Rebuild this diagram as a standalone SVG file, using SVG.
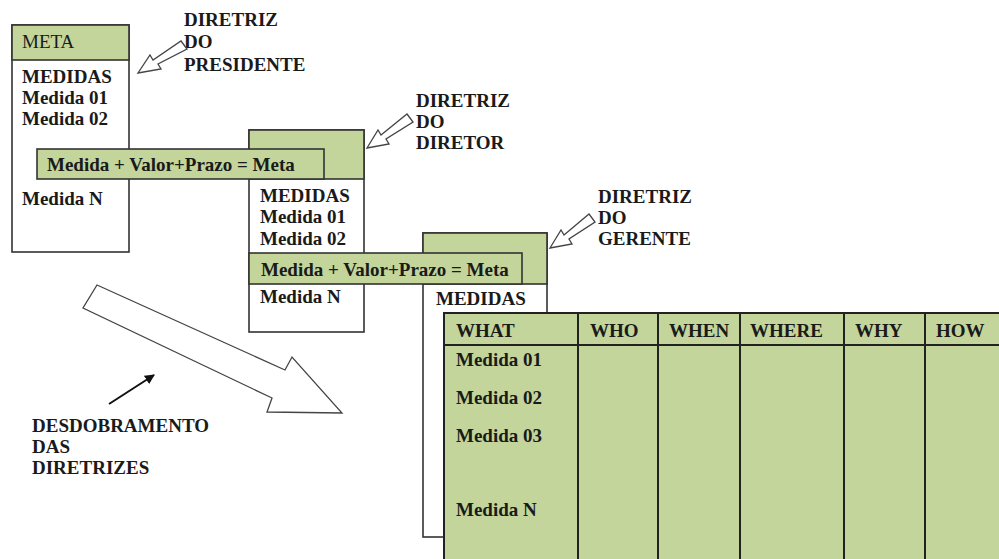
<svg xmlns="http://www.w3.org/2000/svg" width="999" height="559" viewBox="0 0 999 559">
<style>
text{font-family:"Liberation Serif","Times New Roman",serif;font-weight:bold;font-size:19px;fill:#1a1a1a}
.box{fill:#fff;stroke:#333;stroke-width:1.6}
.g{fill:#c3d59b;stroke:#333;stroke-width:1.6}
.hollow{fill:#fff;stroke:#444;stroke-width:1.3}
.grid{stroke:#222;stroke-width:2;fill:none}
.t{font-size:19px}
</style>
<defs>
<marker id="ah" viewBox="0 0 10 10" refX="9" refY="5" markerWidth="5" markerHeight="5" orient="auto">
<path d="M0,0 L10,5 L0,10 z" fill="#111"/>
</marker>
</defs>
<rect width="999" height="559" fill="#fff"/>

<g id="presidente">
<rect class="box" x="12" y="25" width="117" height="227"/>
<rect class="g" x="12" y="25" width="117" height="35"/>
<text x="22" y="48" style="font-weight:normal">META</text>
<text x="22" y="83">MEDIDAS</text>
<text x="22" y="104">Medida 01</text>
<text x="22" y="125">Medida 02</text>
<text x="22" y="205">Medida N</text>
</g>

<g id="diretor">
<rect class="box" x="249" y="130" width="115" height="202"/>
<rect class="g" x="249" y="130" width="115" height="49"/>
<text x="260" y="202">MEDIDAS</text>
<text x="260" y="223">Medida 01</text>
<text x="260" y="245">Medida 02</text>
<text x="260" y="303">Medida N</text>
</g>

<g id="meta-presidente">
<rect class="g" x="37" y="149" width="287" height="30"/>
<text x="47" y="171">Medida + Valor+Prazo = Meta</text>
</g>

<g id="gerente">
<rect class="box" x="423" y="233" width="124" height="304"/>
<rect class="g" x="423" y="233" width="124" height="51"/>
<text x="436" y="305">MEDIDAS</text>
</g>

<g id="meta-diretor">
<rect class="g" x="249" y="253" width="273" height="31"/>
<text x="261" y="276">Medida + Valor+Prazo = Meta</text>
</g>

<g id="tabela-5w1h">
<rect x="444" y="313" width="560" height="250" fill="#c3d59b" stroke="#222" stroke-width="2"/>
<path class="grid" d="M444,345 H999 M578,313 V559 M658,313 V559 M740,313 V559 M844,313 V559 M925,313 V559"/>
<text class="t" x="456" y="337">WHAT</text>
<text class="t" x="590" y="337">WHO</text>
<text class="t" x="669" y="337">WHEN</text>
<text class="t" x="750" y="337">WHERE</text>
<text class="t" x="855" y="337">WHY</text>
<text class="t" x="936" y="337">HOW</text>
<text class="t" x="456" y="366">Medida 01</text>
<text class="t" x="456" y="404">Medida 02</text>
<text class="t" x="456" y="442">Medida 03</text>
<text class="t" x="456" y="516">Medida N</text>
</g>

<g id="rotulo-presidente">
<text x="184" y="26">DIRETRIZ</text>
<text x="184" y="48">DO</text>
<text x="184" y="71">PRESIDENTE</text>
</g>
<g id="rotulo-diretor">
<text x="416" y="107">DIRETRIZ</text>
<text x="416" y="128">DO</text>
<text x="416" y="149">DIRETOR</text>
</g>
<g id="rotulo-gerente">
<text x="598" y="203">DIRETRIZ</text>
<text x="598" y="224">DO</text>
<text x="598" y="245">GERENTE</text>
</g>
<g id="rotulo-desdobramento">
<text x="32" y="432">DESDOBRAMENTO</text>
<text x="32" y="453">DAS</text>
<text x="32" y="474">DIRETRIZES</text>
</g>

<g id="conectores">
<polygon class="hollow" points="184,45 187,49 158,64 161,69 138,73 150,55 153,60 181,41"/>
<polygon class="hollow" points="410,118 413,122 386,139 389,144 367,148 378,130 381,135 407,114"/>
<polygon class="hollow" points="592,218 595,222 569,239 572,244 550,248 561,230 564,235 589,214"/>
<polygon class="hollow" points="97,285 285,370 292,357 342,413 267,412 272,398 83,308"/>
<line x1="109" y1="404" x2="154" y2="375" stroke="#111" stroke-width="2" marker-end="url(#ah)"/>
</g>
</svg>
